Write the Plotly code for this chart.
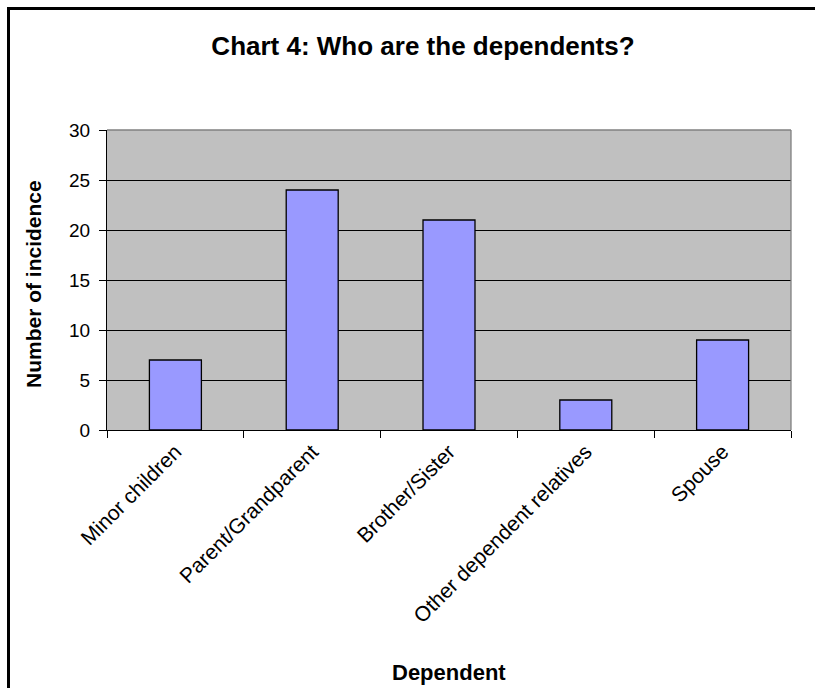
import plotly.graph_objects as go

categories = ["Minor children", "Parent/Grandparent", "Brother/Sister",
              "Other dependent relatives", "Spouse"]
counts = [7, 24, 21, 3, 9]
y_ticks = [0, 5, 10, 15, 20, 25, 30]

# plotting area in pixels
L, R, T, B = 107, 791, 130, 430
W, H = 815, 688
pw, ph = R - L, B - T


def px_x(p):
    return (p - L) / pw


def px_y(p):
    return (B - p) / ph


fig = go.Figure()
fig.add_trace(go.Bar(
    x=categories, y=counts,
    marker=dict(color="#9999FF", line=dict(color="black", width=1.3)),
    width=0.38,
))

fig.update_layout(
    width=W, height=H,
    margin=dict(l=L, r=W - R, t=T, b=H - B),
    paper_bgcolor="white", plot_bgcolor="#C0C0C0",
    font=dict(family="Liberation Sans, Arial, sans-serif", color="black", size=14),
    showlegend=False,
    title=dict(text="<b>Chart 4: Who are the dependents?</b>",
               x=423 / W, xanchor="center", y=1 - 46 / H, yanchor="middle",
               font=dict(size=26)),
    xaxis=dict(
        type="category", tickangle=-45, tickson="boundaries",
        ticks="outside", ticklen=7, tickcolor="black", tickwidth=1.3,
        showline=True, linecolor="black", linewidth=1.3,
        showgrid=False, tickfont=dict(size=21),
    ),
    yaxis=dict(
        range=[0, 30], tickvals=y_ticks, ticks="outside", ticklen=7,
        tickcolor="black", tickwidth=1.3, ticklabelstandoff=5,
        showline=True, linecolor="black", linewidth=1.3,
        showgrid=True, gridcolor="black", gridwidth=1.3, zeroline=False,
        tickfont=dict(size=19),
    ),
    annotations=[
        dict(text="<b>Dependent</b>", xref="paper", yref="paper",
             x=0.5, y=px_y(672), xanchor="center", yanchor="middle",
             showarrow=False, font=dict(size=22)),
        dict(text="<b>Number of incidence</b>", xref="paper", yref="paper",
             x=px_x(33), y=px_y(284), xanchor="center", yanchor="middle",
             textangle=-90, showarrow=False, font=dict(size=21)),
    ],
    shapes=[
        # grey frame along the top and right of the plotting area
        dict(type="line", xref="paper", yref="paper", x0=0, x1=1, y0=1, y1=1,
             line=dict(color="#808080", width=1.3), layer="above"),
        dict(type="line", xref="paper", yref="paper", x0=1, x1=1, y0=0, y1=1,
             line=dict(color="#808080", width=1.3), layer="above"),
        # outer chart border (left and top edges)
        dict(type="line", xref="paper", yref="paper",
             x0=px_x(8.5), x1=px_x(8.5), y0=px_y(7), y1=px_y(700),
             line=dict(color="black", width=3)),
        dict(type="line", xref="paper", yref="paper",
             x0=px_x(7), x1=px_x(830), y0=px_y(8.5), y1=px_y(8.5),
             line=dict(color="black", width=3)),
    ],
)

fig.write_html("out.html")
